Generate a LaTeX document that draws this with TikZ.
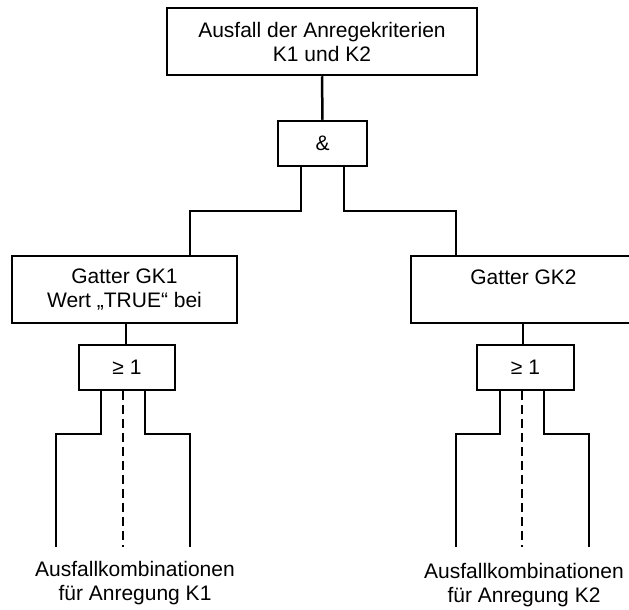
\documentclass[tikz,border=0pt]{standalone}
\usepackage{fontspec}
\setmainfont{Liberation Sans}
\begin{document}
\begin{tikzpicture}[x=1pt,y=-1pt,
  box/.style={draw,line width=2.5pt,inner sep=0pt,align=center,
    font=\fontsize{21}{24}\selectfont},
  wire/.style={line width=2.5pt,line join=miter},
  dwire/.style={line width=2.5pt,dash pattern=on 9pt off 5pt},
  lbl/.style={align=center,inner sep=0pt,font=\fontsize{21}{24}\selectfont}]
\useasboundingbox (0,0) rectangle (629,610);
\clip (0,0) rectangle (629,610);
% boxes
\node[box,minimum width=310pt,minimum height=67pt] (top) at (322,41.5)
  {Ausfall der Anregekriterien\\K1 und K2};
\node[box,minimum width=89pt,minimum height=45pt] (and) at (322.5,143.5) {\&};
\node[box,minimum width=225pt,minimum height=67pt] (gk1) at (124.5,289.5)
  {Gatter GK1\\Wert „TRUE“ bei};
\node[box,minimum width=225pt,minimum height=67pt] (gk2) at (523.5,289.5)
  {Gatter GK2\\\phantom{Wert}};
\node[box,minimum width=96pt,minimum height=45pt] (or1) at (127,367.5) {≥ 1};
\node[box,minimum width=97pt,minimum height=45pt] (or2) at (525.5,367.5) {≥ 1};
% free ends
\coordinate (a1) at (56,547);
\coordinate (a2) at (123,547);
\coordinate (a3) at (190,547);
\coordinate (b1) at (456,547);
\coordinate (b2) at (522,547);
\coordinate (b3) at (589,547);
% connectors
\draw[wire] (top.south) -- (and.north);
\draw[wire] ([xshift=-21.5pt]and.south) |- (190,211) -- (190,211 |- gk1.north);
\draw[wire] ([xshift=21.5pt]and.south) |- (456,211) -- (456,211 |- gk2.north);
\draw[wire] ([xshift=1.5pt]gk1.south) -- ([xshift=-1pt]or1.north);
\draw[wire] ([xshift=-0.5pt]gk2.south) -- ([xshift=-2.5pt]or2.north);
\draw[wire] ([xshift=-26pt]or1.south) |- (56,434) -- (a1);
\draw[wire] ([xshift=18pt]or1.south) |- (190,434) -- (a3);
\draw[dwire] ([xshift=-4pt]or1.south) -- (a2);
\draw[wire] ([xshift=-25.5pt]or2.south) |- (456,434) -- (b1);
\draw[wire] ([xshift=18.5pt]or2.south) |- (589,434) -- (b3);
\draw[dwire] ([xshift=-3.5pt]or2.south) -- (b2);
% labels
\node[lbl] (l1) at (135,583.5) {Ausfallkombinationen\\für Anregung K1};
\node[lbl] (l2) at (524,585) {Ausfallkombinationen\\für Anregung K2};
\end{tikzpicture}
\end{document}
